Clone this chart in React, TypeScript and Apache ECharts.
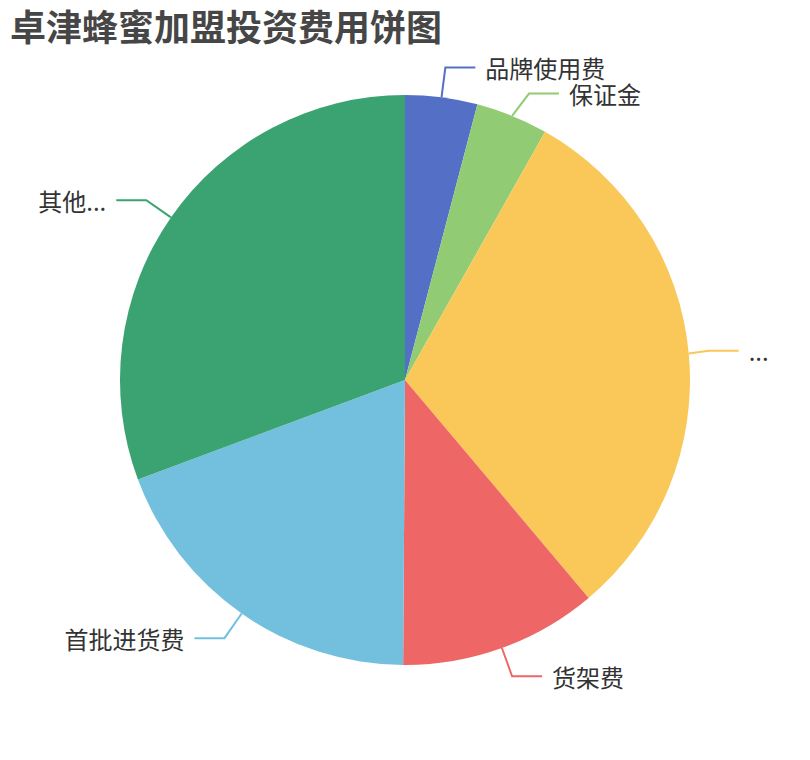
import { useEffect, useRef } from 'react'
import * as echarts from 'echarts'

// 卓津蜂蜜加盟投资费用 (万元)
const CATEGORIES = ['品牌使用费', '保证金', '加盟费', '货架费', '首批进货费', '其他费用']
const VALUES = [2, 2, 15, 5.5, 9.4, 15]
const COLORS = ['#5470c6', '#91cc75', '#fac858', '#ee6666', '#73c0de', '#3ba272']

// labels that get cut short in the picture
const LABEL_WIDTHS: Record<string, number> = {
  加盟费: 25,
  其他费用: 75,
}

export default function App() {
  const chartRef = useRef<HTMLDivElement>(null)

  useEffect(() => {
    if (!chartRef.current) return
    document.body.style.margin = '0'

    const chart = echarts.init(chartRef.current, null, { renderer: 'svg' })

    const pieData = CATEGORIES.map((name, i) => {
      const w = LABEL_WIDTHS[name]
      return w
        ? { name, value: VALUES[i], label: { width: w, overflow: 'truncate' as const } }
        : { name, value: VALUES[i] }
    })

    const option: echarts.EChartsOption = {
      animation: false,
      color: COLORS,
      title: {
        text: '卓津蜂蜜加盟投资费用饼图',
        left: 5,
        top: 2,
        padding: 5,
        textStyle: {
          color: '#464646',
          fontSize: 36,
          fontWeight: 'bold',
          fontFamily: 'Noto Sans CJK SC, sans-serif',
        },
      },
      series: [
        {
          type: 'pie',
          radius: '75%',
          center: ['50%', '50%'],
          data: pieData,
          label: {
            color: '#333',
            fontSize: 24,
            fontFamily: 'Noto Sans CJK SC, sans-serif',
            distanceToLabelLine: 10,
          },
          labelLine: {
            length: 30,
            length2: 30,
            lineStyle: { width: 2 },
          },
          itemStyle: { borderWidth: 0 },
        },
      ],
    }

    chart.setOption(option)

    return () => {
      chart.dispose()
    }
  }, [])

  return <div ref={chartRef} style={{ width: '810px', height: '760px' }} />
}
